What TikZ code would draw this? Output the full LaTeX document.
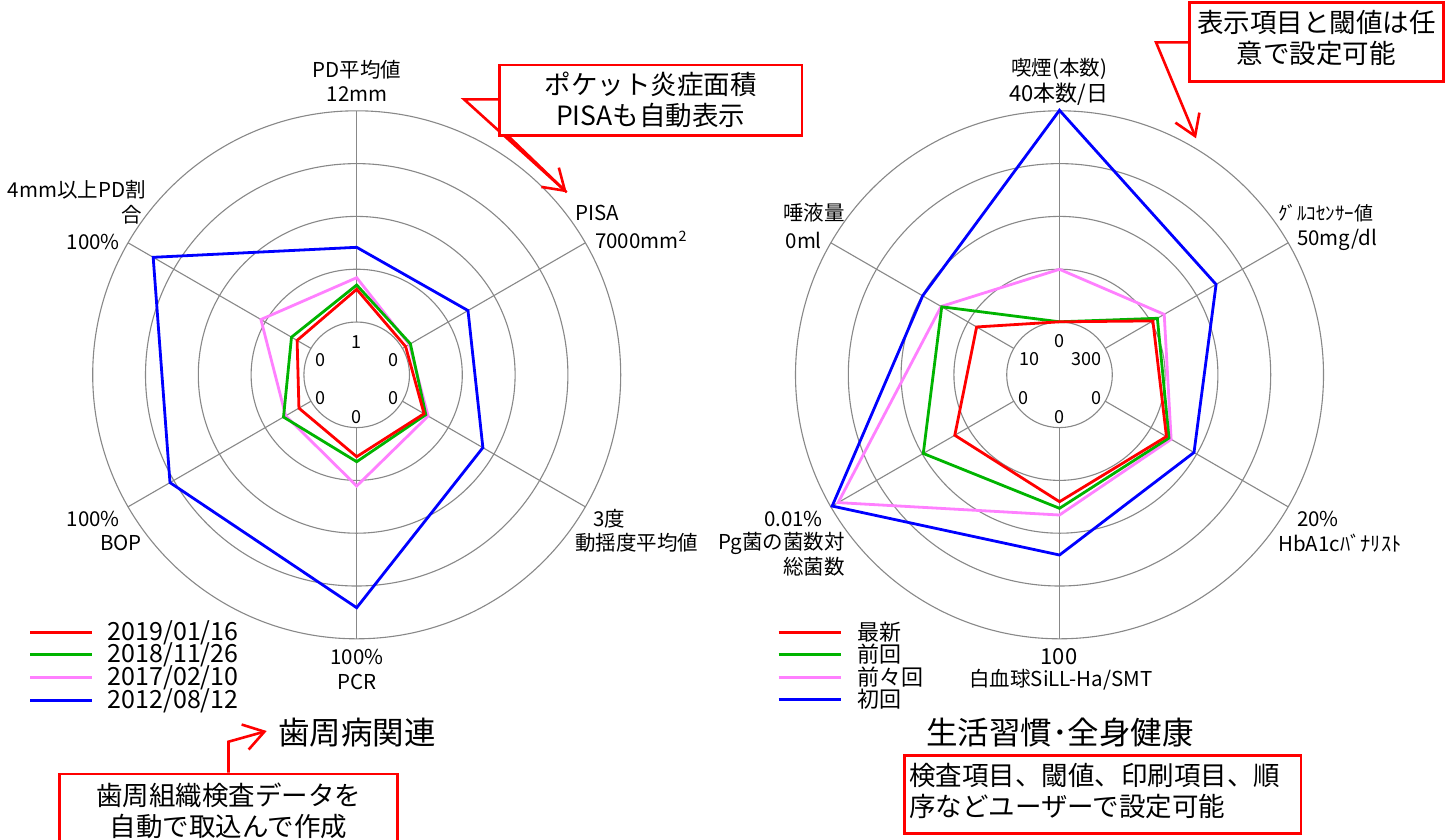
\documentclass[tikz,border=0pt]{standalone}
\usepackage{fontspec}
\setmainfont{Noto Sans CJK JP}
\usetikzlibrary{arrows.meta}
\definecolor{gridgray}{RGB}{136,136,136}
\definecolor{sred}{RGB}{255,0,0}
\definecolor{sgreen}{RGB}{0,180,0}
\definecolor{spink}{RGB}{255,128,255}
\definecolor{sblue}{RGB}{0,0,255}
\definecolor{cred}{RGB}{255,0,0}
\begin{document}
\begin{tikzpicture}[x=1pt,y=-1pt,
  grid/.style={draw=gridgray, line width=1.1pt},
  series/.style={line width=2.8pt, line join=miter},
  legline/.style={line width=2.8pt},
  lbl/.style={inner sep=0pt, font=\fontsize{20.5}{24}\selectfont},
  lblsm/.style={inner sep=0pt, font=\fontsize{19}{23}\selectfont},
  lblbig/.style={inner sep=0pt, font=\fontsize{22}{26}\selectfont},
  inlbl/.style={inner sep=0pt, font=\fontsize{18}{22}\selectfont},
  leg/.style={inner sep=0pt, anchor=west, font=\fontsize{25}{29}\selectfont},
  legj/.style={inner sep=0pt, anchor=west, font=\fontsize{22}{26}\selectfont},
  ttl/.style={inner sep=0pt, anchor=west, font=\fontsize{31.5}{35}\selectfont},
  ctext/.style={inner sep=0pt, font=\fontsize{26.5}{31}\selectfont},
  cbox/.style={draw=cred, line width=2.6pt, fill=white, inner sep=0pt},
  callout/.style={draw=cred, line width=2.6pt, line join=miter},
  barb/.style={-{Straight Barb[length=20pt,width=26pt]}}]
\useasboundingbox (0,0) rectangle (1455,839);
\fill[white] (0,0) rectangle (1455,839);

\coordinate (cL) at (356.7,374.8);
\coordinate (cR) at (1059.5,374.8);

% ---------- left chart ----------
\begin{scope}[shift={(cL)}]
  \foreach \r in {52.8,105.6,158.4,211.2,264} \draw[grid] (0,0) circle[radius=\r];
  \foreach \a in {-90,-30,30,90,150,210} \draw[grid] (\a:52.8) -- (\a:264);
  \draw[series, sblue] (-90:127.5) -- (-30:128.5) -- (30:145.7) -- (90:232.9) -- (150:215.6) -- (210:235) -- cycle;
  \draw[series, spink] (-90:97.1) -- (-30:60.7) -- (30:82.5) -- (90:111.2) -- (150:82) -- (210:110.6) -- cycle;
  \draw[series, sgreen] (-90:89.8) -- (-30:62) -- (30:79.8) -- (90:86.9) -- (150:84.5) -- (210:75.3) -- cycle;
  \draw[series, sred] (-90:85.5) -- (-30:56.5) -- (30:77.8) -- (90:81.9) -- (150:66.7) -- (210:68.8) -- cycle;
\end{scope}
\node[inlbl] (iL0) at (356.7,341.7) {1};
\node[inlbl] (iL1) at (393.3,360) {0};
\node[inlbl] (iL2) at (393.3,398.3) {0};
\node[inlbl] (iL3) at (356.7,416.7) {0};
\node[inlbl] (iL4) at (320,398.3) {0};
\node[inlbl] (iL5) at (320,360) {0};

\node[lbl] (pdA) at (357,70) {PD平均値};
\node[lbl] (pdB) at (357,94) {12mm};
\node[lbl,anchor=west] (pisaA) at (575,213) {PISA};
\node[lbl,anchor=west] (pisaB) at (595,240) {7000mm\textsuperscript{2}};
\node[lbl,anchor=east] (ppA) at (146,190) {4mm以上PD割};
\node[lbl,anchor=east] (ppB) at (142,215) {合};
\node[lbl,anchor=east] (ppC) at (120,242) {100\%};
\node[lbl,anchor=east] (bopA) at (120,519) {100\%};
\node[lbl,anchor=east] (bopB) at (142,543) {BOP};
\node[lbl,anchor=west] (motA) at (593,519) {3度};
\node[lbl,anchor=west] (motB) at (575,543) {動揺度平均値};
\node[lbl] (pcrA) at (357,657) {100\%};
\node[lbl] (pcrB) at (357,682) {PCR};

% ---------- right chart ----------
\begin{scope}[shift={(cR)}]
  \foreach \r in {52.8,105.6,158.4,211.2,264} \draw[grid] (0,0) circle[radius=\r];
  \foreach \a in {-90,-30,30,90,150,210} \draw[grid] (\a:52.8) -- (\a:264);
  \draw[series, sblue] (-90:264.5) -- (-30:180.8) -- (30:155.3) -- (90:180.2) -- (150:262.5) -- (210:158) -- cycle;
  \draw[series, spink] (-90:105.5) -- (-30:120.9) -- (30:128.9) -- (90:140.2) -- (150:255.6) -- (210:136.7) -- cycle;
  \draw[series, sgreen] (-90:53) -- (-30:113) -- (30:126.4) -- (90:133.5) -- (150:157.3) -- (210:136) -- cycle;
  \draw[series, sred] (-90:53) -- (-30:107.8) -- (30:123.5) -- (90:126.9) -- (150:120.9) -- (210:95.7) -- cycle;
\end{scope}
\node[inlbl] (iR0) at (1059.3,340.7) {0};
\node[inlbl] (iR1) at (1086,359.3) {300};
\node[inlbl] (iR2) at (1096,398.3) {0};
\node[inlbl] (iR3) at (1059.3,416.7) {0};
\node[inlbl] (iR4) at (1023.3,398.3) {0};
\node[inlbl] (iR5) at (1029,359.3) {10};

\node[lbl] (smA) at (1059,69) {喫煙(本数)};
\node[lblbig] (smB) at (1059,94) {40本数/日};
\node[lbl,anchor=east] (saA) at (845,213) {唾液量};
\node[lbl,anchor=east] (saB) at (822,240) {0ml};
\node[lblsm,anchor=west] (glA) at (1278,213) {ｸﾞﾙｺｾﾝｻｰ値};
\node[lbl,anchor=west] (glB) at (1297,240) {50mg/dl};
\node[lbl,anchor=east] (pgA) at (823,519) {0.01\%};
\node[lbl,anchor=east] (pgB) at (845,543) {Pg菌の菌数対};
\node[lbl,anchor=east] (pgC) at (845,567) {総菌数};
\node[lbl,anchor=west] (hbA) at (1297,519) {20\%};
\node[lbl,anchor=west] (hbB) at (1278,543) {HbA1cﾊﾞﾅﾘｽﾄ};
\node[lblbig] (wbA) at (1059,657) {100};
\node[lbl] (wbB) at (1061,680) {白血球SiLL-Ha/SMT};

% ---------- legends ----------
\draw[legline, sred] (30,632.3) -- (92.3,632.3);
\draw[legline, sgreen] (30,654.8) -- (92.3,654.8);
\draw[legline, spink] (30,677.5) -- (92.3,677.5);
\draw[legline, sblue] (30,700.3) -- (92.3,700.3);
\node[leg] (lg1) at (107.7,632.3) {2019/01/16};
\node[leg] (lg2) at (107.7,654.8) {2018/11/26};
\node[leg] (lg3) at (107.7,677.5) {2017/02/10};
\node[leg] (lg4) at (107.7,700.3) {2012/08/12};

\draw[legline, sred] (778.6,632.3) -- (841.4,632.3);
\draw[legline, sgreen] (778.6,654.5) -- (841.4,654.5);
\draw[legline, spink] (778.6,677.3) -- (841.4,677.3);
\draw[legline, sblue] (778.6,699.5) -- (841.4,699.5);
\node[legj] (rg1) at (857,632.3) {最新};
\node[legj] (rg2) at (857,654.5) {前回};
\node[legj] (rg3) at (857,677.3) {前々回};
\node[legj] (rg4) at (857,699.5) {初回};

% ---------- titles ----------
\node[ttl] (tL) at (278,733) {歯周病関連};
\node[ttl] (tR) at (926,733) {生活習慣･全身健康};

% ---------- callouts ----------
\coordinate (aBend) at (464,99.3);
\coordinate (aTip) at (566.7,192.3);
\coordinate (aFoot) at (505,133);
\coordinate (aBase) at (520,99.3);
\draw[callout, barb] (aBase) -- (aBend) -- (aTip);
\draw[callout] (aFoot) -- (aTip);
\node[cbox, minimum width=302.7, minimum height=70.7] (boxA) at (650.6,100.4) {};
\node[ctext, align=center] (txtA) at (650.6,100) {ポケット炎症面積\\PISAも自動表示};

\coordinate (bBend) at (1156,42.3);
\coordinate (bTip) at (1196,138.3);
\coordinate (bBase) at (1200,42.3);
\draw[callout, barb] (bBase) -- (bBend) -- (bTip);
\node[cbox, minimum width=254, minimum height=79] (boxB) at (1316.3,42.2) {};
\node[ctext, align=center] (txtB) at (1316.3,37.5) {表示項目と閾値は任\\意で設定可能};

\coordinate (cBend) at (228.5,741.7);
\coordinate (cTip) at (266.7,731);
\node[cbox, minimum width=338.4, minimum height=80] (boxC) at (228.5,814) {};
\draw[callout, barb] (boxC.north) -- (cBend) -- (cTip);
\node[ctext, align=center] (txtC) at (228.5,810.5) {歯周組織検査データを\\自動で取込んで作成};

\node[cbox, minimum width=396.4, minimum height=77.6] (boxD) at (1102.8,794.5) {};
\node[ctext, align=left, anchor=west] (txtD) at (909,790.5) {検査項目、閾値、印刷項目、順\\序などユーザーで設定可能};
\end{tikzpicture}
\end{document}
